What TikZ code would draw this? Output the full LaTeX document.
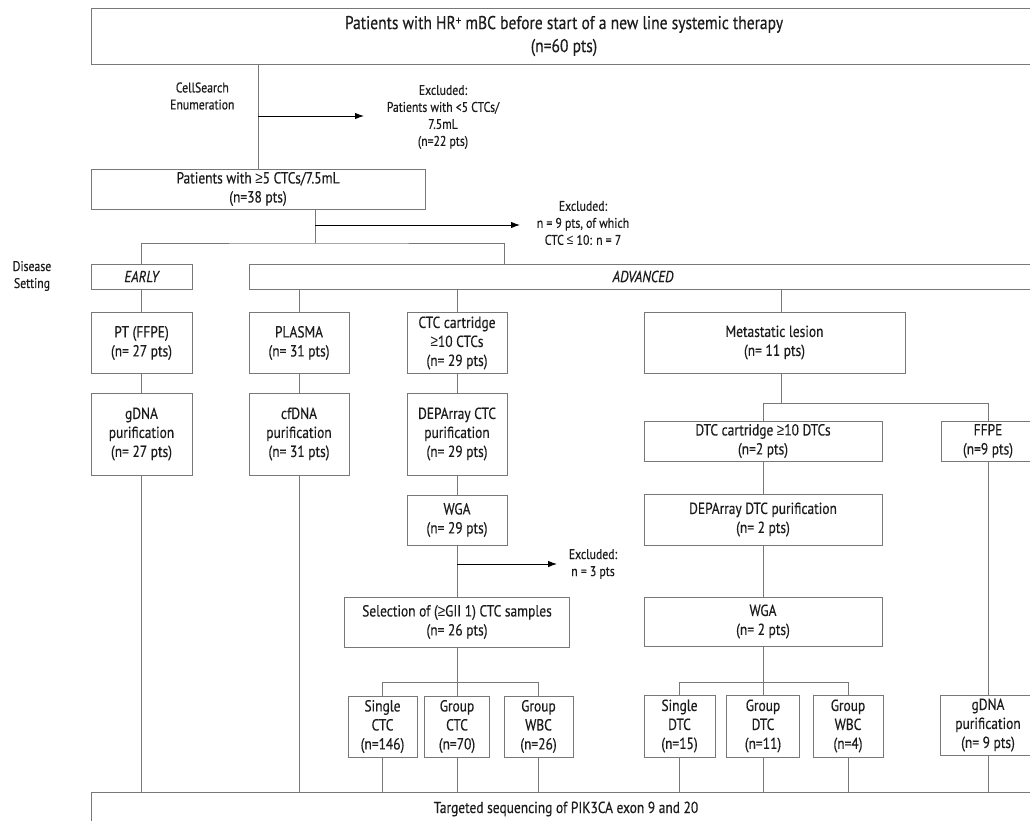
\documentclass[tikz,border=0pt]{standalone}
\usepackage{fontspec}
\setmainfont{PT Sans}[FakeStretch=0.84, FakeBold=0.4]
\newfontfamily\relfont{Liberation Sans}[FakeStretch=0.84]
\usetikzlibrary{arrows.meta}
\definecolor{linegray}{RGB}{120,120,120}
\definecolor{txtgray}{RGB}{28,28,28}
\newcommand{\boxfont}{\fontsize{16}{19}\selectfont}
\newcommand{\notefont}{\fontsize{14}{17}\selectfont}
\newcommand{\atleast}{{\relfont ≥}}
\newcommand{\atmost}{{\relfont ≤}}
\begin{document}
\begin{tikzpicture}[>={Latex[length=9pt,width=6.5pt]}, x=1pt, y=-1pt,
    box/.style={draw=linegray, line width=0.9pt, text=txtgray, align=center, inner sep=1pt, font=\boxfont},
    note/.style={text=txtgray, align=center, font=\notefont},
    wire/.style={draw=linegray, line width=0.9pt},
    excl/.style={->, black, line width=0.9pt}]
\useasboundingbox (0,0) rectangle (1030,820);
\clip (0,0) rectangle (1030,820);
% screening
\node[box, minimum width=946pt, minimum height=56pt, font=\fontsize{18.5}{23}\selectfont] (all) at (564,36)
    {Patients with HR\raisebox{0.45ex}{\fontsize{13}{13}\selectfont +} mBC before start of a new line systemic therapy\\(n=60 pts)};
\node[note, anchor=east] (cs) at (238,96) {CellSearch\\Enumeration};
\node[note] (ex1) at (443,117) {Excluded:\\Patients with <5 CTCs/\\7.5mL\\(n=22 pts)};
\node[box, minimum width=334pt, minimum height=40pt] (pos) at (258,189) {Patients with \atleast5 CTCs/7.5mL\\(n=38 pts)};
\node[note] (ex2) at (583,223) {Excluded:\\n = 9 pts, of which\\CTC \atmost\ 10: n = 7};
% disease setting
\node[note] (ds) at (32,276) {Disease\\Setting};
\node[box, minimum width=101pt, minimum height=25pt, font=\boxfont\itshape] (early) at (141.5,276.5) {EARLY};
\node[box, minimum width=788pt, minimum height=25pt, font=\boxfont\itshape] (adv) at (643,276.5) {ADVANCED};
% samples
\node[box, minimum width=101pt, minimum height=61pt] (pt) at (141.5,343) {PT (FFPE)\\(n= 27 pts)};
\node[box, minimum width=101pt, minimum height=82pt] (gdna) at (141.5,434) {gDNA\\purification\\(n= 27 pts)};
\node[box, minimum width=100pt, minimum height=61pt] (plasma) at (299,343) {PLASMA\\(n= 31 pts)};
\node[box, minimum width=100pt, minimum height=82pt] (cfdna) at (299,434) {cfDNA\\purification\\(n= 31 pts)};
\node[box, minimum width=100pt, minimum height=61pt] (ctc) at (457,343) {CTC cartridge\\\atleast10 CTCs\\(n= 29 pts)};
\node[box, minimum width=100pt, minimum height=82pt] (depc) at (457,434) {DEPArray CTC\\purification\\(n= 29 pts)};
\node[box, minimum width=100pt, minimum height=50pt] (wgac) at (457,520) {WGA\\(n= 29 pts)};
\node[note] (ex3) at (593,564) {Excluded:\\n = 3 pts};
\node[box, minimum width=225pt, minimum height=50pt] (sel) at (457,622) {Selection of (\atleast GII 1) CTC samples\\(n= 26 pts)};
\node[box, minimum width=69pt, minimum height=61pt] (sctc) at (382.5,726.5) {Single\\CTC\\(n=146)};
\node[box, minimum width=65pt, minimum height=61pt] (gctc) at (457,726.5) {Group\\CTC\\(n=70)};
\node[box, minimum width=69pt, minimum height=61pt] (gwbc) at (538.5,726.5) {Group\\WBC\\(n=26)};
\node[box, minimum width=261pt, minimum height=61pt] (meta) at (774.5,342.5) {Metastatic lesion\\(n= 11 pts)};
\node[box, minimum width=238pt, minimum height=40pt] (dtc) at (763,441) {DTC cartridge \atleast10 DTCs\\(n=2 pts)};
\node[box, minimum width=94pt, minimum height=40pt] (ffpe) at (988,441) {FFPE\\(n=9 pts)};
\node[box, minimum width=238pt, minimum height=51pt] (depd) at (763,519.5) {DEPArray DTC purification\\(n= 2 pts)};
\node[box, minimum width=238pt, minimum height=49pt] (wgad) at (763,621.5) {WGA\\(n= 2 pts)};
\node[box, minimum width=71pt, minimum height=62pt] (sdtc) at (679.5,726) {Single\\DTC\\(n=15)};
\node[box, minimum width=73pt, minimum height=62pt] (gdtc) at (763,726) {Group\\DTC\\(n=11)};
\node[box, minimum width=70pt, minimum height=62pt] (gwbd) at (848,726) {Group\\WBC\\(n=4)};
\node[box, minimum width=96pt, minimum height=60pt] (gdnf) at (988,725) {gDNA\\purification\\(n= 9 pts)};
\node[box, minimum width=950pt, minimum height=34pt] (seq) at (566,809) {Targeted sequencing of PIK3CA exon 9 and 20};
% connectors
\coordinate (ex1a) at (364,116);
\coordinate (ex2a) at (520,225);
\coordinate (ex3a) at (557,564);
\coordinate (br) at (315,243);
\coordinate (advtop) at (504,264);
\coordinate (metab) at (781,404);
\draw[wire] (all.south -| pos.north) -- (pos.north);
\draw[excl] (pos.north |- ex1a) -- (ex1a);
\draw[wire] (pos.south -| br) -- (br);
\draw[excl] (br |- ex2a) -- (ex2a);
\draw[wire] (early.north) |- (br) -| (advtop);
\draw[wire] (early) -- (pt) (pt) -- (gdna);
\draw[wire] (plasma.north |- adv.south) -- (plasma.north) (plasma) -- (cfdna);
\draw[wire] (ctc.north |- adv.south) -- (ctc.north) (ctc) -- (depc) (depc) -- (wgac) (wgac) -- (sel);
\draw[excl] (wgac.south |- ex3a) -- (ex3a);
\draw[wire] (sel) -- (gctc);
\draw[wire] (sctc.north) -- ++(0,-13) -| (gwbc.north);
\draw[wire] (adv.south -| metab) -- (meta.north -| metab) (meta.south -| metab) -- (metab);
\draw[wire] (dtc.north) -- ++(0,-17) -| (ffpe.north);
\draw[wire] (dtc) -- (depd) (depd) -- (wgad) (wgad) -- (gdtc);
\draw[wire] (sdtc.north) -- ++(0,-12) -| (gwbd.north);
\draw[wire] (ffpe) -- (gdnf);
\foreach \n in {gdna,cfdna,sctc,gctc,gwbc,sdtc,gdtc,gwbd,gdnf}
    \draw[wire] (\n.south) -- (\n.south |- seq.north);
\end{tikzpicture}
\end{document}
